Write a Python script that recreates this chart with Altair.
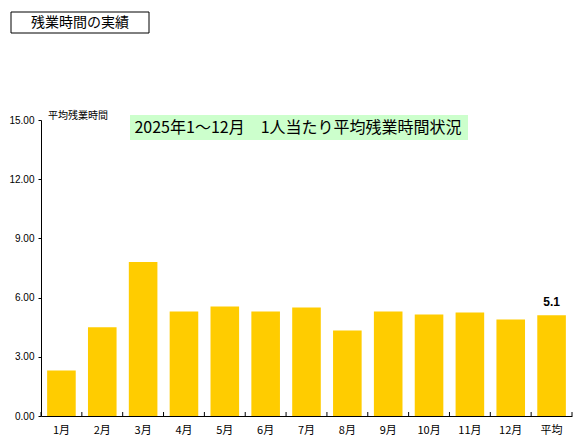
import altair as alt
import pandas as pd

months = ["1月", "2月", "3月", "4月", "5月", "6月", "7月", "8月", "9月", "10月", "11月", "12月", "平均"]
hours = [2.3, 4.5, 7.8, 5.3, 5.55, 5.3, 5.5, 4.33, 5.3, 5.14, 5.24, 4.89, 5.1]
y_ticks = [0, 3, 6, 9, 12, 15]
chart_title = "2025年1～12月　1人当たり平均残業時間状況"
header = "残業時間の実績"
y_title = "平均残業時間"

W, H = 531, 296
df = pd.DataFrame({"month": months, "hours": hours})
one = pd.DataFrame({"t": [chart_title], "h": [header], "yt": [y_title]})

JP = "Noto Sans CJK JP"
NUM = "Liberation Sans"


def xenc(**kw):
    return alt.X(
        "month:N",
        sort=months,
        scale=alt.Scale(paddingInner=0, paddingOuter=0),
        axis=alt.Axis(
            title=None, labelAngle=0, ticks=False, labelFont=JP, labelFontSize=11,
            labelColor="black", labelPadding=8, domainColor="black", domainWidth=1,
        ),
        **kw,
    )


yenc = alt.Y(
    "hours:Q",
    scale=alt.Scale(domain=[0, 15], nice=False),
    axis=alt.Axis(
        title=None, values=y_ticks, format=".2f", grid=False, tickSize=3,
        tickColor="black", domainColor="black", labelFont=NUM, labelFontSize=10,
        labelColor="black", labelPadding=4,
    ),
)

bars = alt.Chart(df).mark_bar(color="#FFCC00", width=alt.RelativeBandSize(0.7)).encode(
    x=xenc(), y=yenc
)

ticks = alt.Chart(df).mark_rule(color="black", strokeWidth=1).encode(
    x=xenc(bandPosition=0), y=alt.value(H - 4), y2=alt.value(H)
)
end_tick = alt.Chart(one).mark_rule(color="black", strokeWidth=1).encode(
    x=alt.value(W), y=alt.value(H - 4), y2=alt.value(H)
)

value_label = (
    alt.Chart(df)
    .transform_filter(alt.datum.month == "平均")
    .mark_text(dy=-9, baseline="alphabetic", font=NUM, fontWeight="bold", fontSize=12, color="black")
    .encode(x=xenc(), y=yenc, text=alt.Text("hours:Q", format=".1f"))
)

title_bg = alt.Chart(one).mark_rect(color="#CCFFCC").encode(
    x=alt.value(89), x2=alt.value(427), y=alt.value(-5), y2=alt.value(20)
)
title_text = alt.Chart(one).mark_text(
    font=JP, fontSize=16, color="black", align="center", baseline="middle"
).encode(x=alt.value(257), y=alt.value(7.5), text="t:N")

header_box = alt.Chart(one).mark_rect(fill="white", stroke="black", strokeWidth=1).encode(
    x=alt.value(-30), x2=alt.value(108), y=alt.value(-108), y2=alt.value(-87)
)
header_text = alt.Chart(one).mark_text(
    font=JP, fontSize=14, color="black", align="center", baseline="middle"
).encode(x=alt.value(39), y=alt.value(-97.5), text="h:N")

ytitle_text = alt.Chart(one).mark_text(
    font=JP, fontSize=10, color="black", align="left", baseline="alphabetic"
).encode(x=alt.value(7), y=alt.value(-1), text="yt:N")

chart = (
    alt.layer(bars, ticks, end_tick, value_label, title_bg, title_text, header_box, header_text, ytitle_text)
    .properties(
        width=W,
        height=H,
        padding={"left": 33, "top": 112, "right": 2, "bottom": 22},
        autosize=alt.AutoSizeParams(type="none"),
    )
    .configure_view(stroke=None)
)

chart.save("out.html", embed_options={"renderer": "svg", "actions": False})
